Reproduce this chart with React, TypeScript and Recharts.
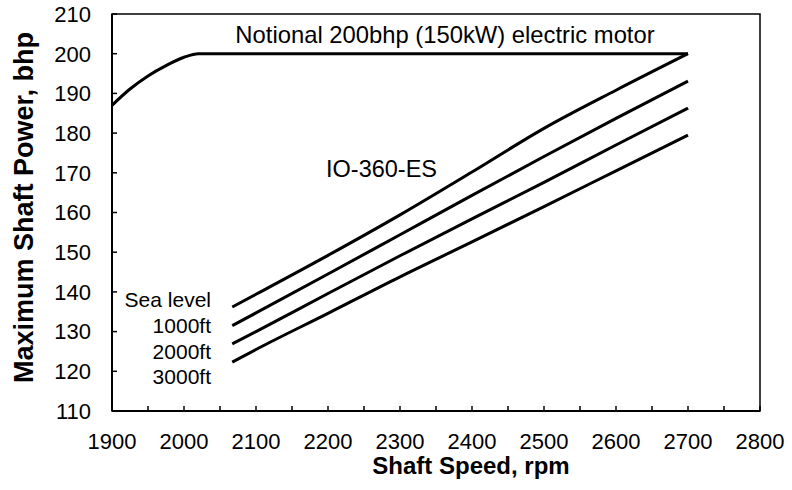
import React from 'react';
import { LineChart, Line, XAxis, YAxis, ReferenceArea } from 'recharts';

// notional electric motor
const motorRpm = [1900, 1925, 1950, 1975, 2000, 2020, 2700];
const motorBhp = [187, 191.1, 194.4, 197, 199.1, 200, 200];

// IO-360-ES at altitude
const engineRpm = [2067, 2100, 2200, 2300, 2400, 2500, 2600, 2700];
const seaLevelBhp = [136.2, 139.4, 149.2, 159.4, 170.2, 181.2, 190.8, 200];
const ft1000Bhp = [131.5, 134.7, 144.5, 154.4, 164.3, 174.1, 183.7, 193.1];
const ft2000Bhp = [126.9, 130.0, 139.6, 149.1, 158.4, 167.6, 177.0, 186.3];
const ft3000Bhp = [122.3, 125.5, 134.6, 143.8, 152.6, 161.5, 170.5, 179.5];

const xTicks = [
  1900, 1950, 2000, 2050, 2100, 2150, 2200, 2250, 2300, 2350, 2400, 2450, 2500,
  2550, 2600, 2650, 2700, 2750, 2800,
];
const yTicks = [110, 120, 130, 140, 150, 160, 170, 180, 190, 200, 210];

const altitudeLabels = ['Sea level', '1000ft', '2000ft', '3000ft'];

const toPoints = (xs: number[], ys: number[]) => xs.map((rpm, i) => ({ rpm, bhp: ys[i] }));

const motorData = toPoints(motorRpm, motorBhp);
const engineSeries = [seaLevelBhp, ft1000Bhp, ft2000Bhp, ft3000Bhp].map((s) => toPoints(engineRpm, s));

const font = '"Liberation Sans", Arial, sans-serif';

const App: React.FC = () => {
  return (
    <div style={{ position: 'absolute', left: 0, top: 0, width: 792, height: 490, background: '#fff', fontFamily: font }}>
      <LineChart width={792} height={490} margin={{ top: 14, right: 32, bottom: 0, left: 12 }}>
        <ReferenceArea x1={1900} x2={2800} y1={110} y2={210} fill="none" stroke="#000" strokeWidth={1.5} ifOverflow="visible" />
        <XAxis
          type="number"
          dataKey="rpm"
          domain={[1900, 2800]}
          ticks={xTicks}
          interval={0}
          allowDataOverflow
          height={79}
          tickSize={-5}
          tickMargin={27}
          tickFormatter={(v: number) => (v % 100 === 0 ? String(v) : '')}
          axisLine={{ stroke: '#000', strokeWidth: 2 }}
          tickLine={{ stroke: '#000', strokeWidth: 1.5 }}
          tick={{ fill: '#000', fontSize: 22, fontFamily: font }}
        />
        <YAxis
          type="number"
          domain={[110, 210]}
          ticks={yTicks}
          interval={0}
          allowDataOverflow
          width={100}
          tickSize={-5}
          tickMargin={26}
          axisLine={{ stroke: '#000', strokeWidth: 2 }}
          tickLine={{ stroke: '#000', strokeWidth: 1.5 }}
          tick={{ fill: '#000', fontSize: 22, fontFamily: font }}
        />
        <Line data={motorData} dataKey="bhp" type="monotone" stroke="#000" strokeWidth={3} dot={false} isAnimationActive={false} />
        {engineSeries.map((d, i) => (
          <Line key={i} data={d} dataKey="bhp" type="monotone" stroke="#000" strokeWidth={3} dot={false} isAnimationActive={false} />
        ))}
      </LineChart>
      <svg width={792} height={490} style={{ position: 'absolute', left: 0, top: 0, pointerEvents: 'none' }}>
        <g fontFamily={font} fill="#000">
          <text x={445} y={43} fontSize={23.8} textAnchor="middle">Notional 200bhp (150kW) electric motor</text>
          <text x={326} y={176.5} fontSize={23.5}>IO-360-ES</text>
          {altitudeLabels.map((t, i) => (
            <text key={t} x={211} y={307 + i * 25.8} fontSize={21} textAnchor="end">{t}</text>
          ))}
          <text x={471} y={474} fontSize={24} fontWeight="bold" textAnchor="middle">Shaft Speed, rpm</text>
          <text x={33} y={207.5} fontSize={27} fontWeight="bold" textAnchor="middle" transform="rotate(-90 33 207.5)">
            Maximum Shaft Power, bhp
          </text>
        </g>
      </svg>
    </div>
  );
};

export default App;
